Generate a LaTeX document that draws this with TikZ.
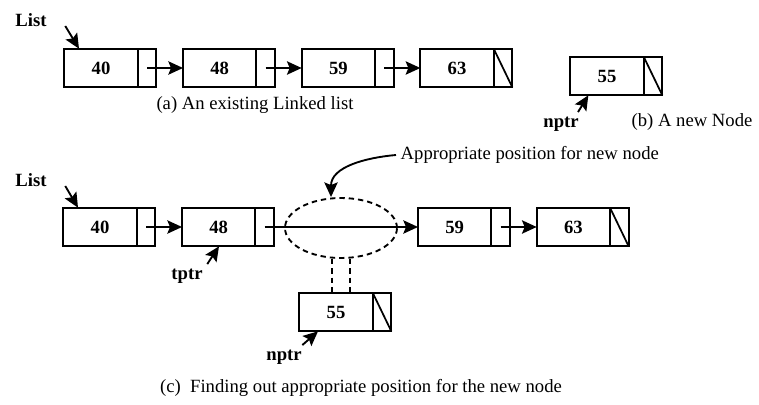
\documentclass[tikz,border=0pt]{standalone}
\usepackage{fontspec}
\setmainfont{Liberation Serif}
\usetikzlibrary{positioning,arrows.meta,shapes.geometric}

\begin{document}
\begin{tikzpicture}[
      x=0.75pt, y=-0.75pt,
      node distance=20pt,
      every node/.style={font=\fontsize{14}{16}\selectfont},
      databox/.style={draw, line width=1.6pt, outer sep=0pt, minimum width=55pt, minimum height=29pt, inner sep=0pt, font=\fontsize{14}{16}\selectfont\bfseries},
      ptrbox/.style={draw, line width=1.6pt, outer sep=0pt, minimum width=14pt, minimum height=29pt, inner sep=0pt, right=0pt of #1},
      label/.style={font=\fontsize{14}{16}\selectfont\bfseries},
      arrow/.style={line width=1.4pt, -{Stealth[length=11pt,width=10pt,inset=2pt]}},
      gapline/.style={line width=1.4pt, dash pattern=on 4pt off 3pt}
    ]
    \useasboundingbox (0,0) rectangle (759,404);

    % (a) existing list
    \node[databox] (a1) at (101,68) {40};
    \node[ptrbox=a1] (a1p) {};
    \node[databox, right=of a1p] (a2) {48};
    \node[ptrbox=a2] (a2p) {};
    \node[databox, right=of a2p] (a3) {59};
    \node[ptrbox=a3] (a3p) {};
    \node[databox, right=of a3p] (a4) {63};
    \node[ptrbox=a4] (a4p) {};
    \draw[line width=1.3pt] (a4p.north west) -- (a4p.south east);

    \draw[arrow] (a1p.center) -- (a2);
    \draw[arrow] (a2p.center) -- (a3);
    \draw[arrow] (a3p.center) -- (a4);

    \node[label] (lista) at (31,20) {List};
    \draw[arrow] ([shift={(10.5pt,-4.5pt)}]lista.east) -- ([xshift=11pt]a1.north west);
    \node (capa) at (255,105) {(a) An existing Linked list};

    % (b) new node
    \node[databox] (b1) at (607,76) {55};
    \node[ptrbox=b1] (b1p) {};
    \draw[line width=1.3pt] (b1p.north west) -- (b1p.south east);
    \node[label] (nptrb) at (561,124) {nptr};
    \draw[arrow] ([xshift=-4pt]nptrb.north east) -- ([xshift=13.5pt]b1.south west);
    \node (capb) at (692,122) {(b) A new Node};

    % (c) finding the position
    \node[databox] (c1) at (100,227) {40};
    \node[ptrbox=c1] (c1p) {};
    \node[databox, right=of c1p] (c2) {48};
    \node[ptrbox=c2] (c2p) {};
    \node[databox, right=108pt of c2p] (c3) {59};
    \node[ptrbox=c3] (c3p) {};
    \node[databox, right=of c3p] (c4) {63};
    \node[ptrbox=c4] (c4p) {};
    \draw[line width=1.3pt] (c4p.north west) -- (c4p.south east);

    \draw[arrow] (c1p.center) -- (c2);
    \draw[arrow] (c2p.center) -- (c3);
    \draw[arrow] (c3p.center) -- (c4);

    \node[ellipse, draw, gapline, minimum width=84pt, minimum height=45pt] (gap) at (341,228) {};
    \node[databox] (c5) at (336,312) {55};
    \node[ptrbox=c5] (c5p) {};
    \draw[line width=1.3pt] (c5p.north west) -- (c5p.south east);
    \draw[gapline] ([xshift=-6.75pt]gap.south) -- ([xshift=-6.75pt]gap.south |- c5.north);
    \draw[gapline] ([xshift=6.75pt]gap.south) -- ([xshift=6.75pt]gap.south |- c5.north);

    \node[anchor=west] (note) at (396,155) {Appropriate position for new node};
    \draw[arrow] (note.west) to[out=185, in=90] ([xshift=-7.5pt]gap.north);

    \node[label] (listc) at (31,180) {List};
    \draw[arrow] ([shift={(10.5pt,-4.5pt)}]listc.east) -- ([xshift=11pt]c1.north west);
    \node[label] (tptr) at (187,276) {tptr};
    \draw[arrow] (tptr.north east) -- ([xshift=27.75pt]c2.south west);
    \node[label] (nptrc) at (284,357) {nptr};
    \draw[arrow] ([xshift=-3pt]nptrc.north east) -- ([xshift=14pt]c5.south west);

    \node (capc) at (361,388) {(c)\ \ Finding out appropriate position for the new node};

    \end{tikzpicture}
\end{document}
